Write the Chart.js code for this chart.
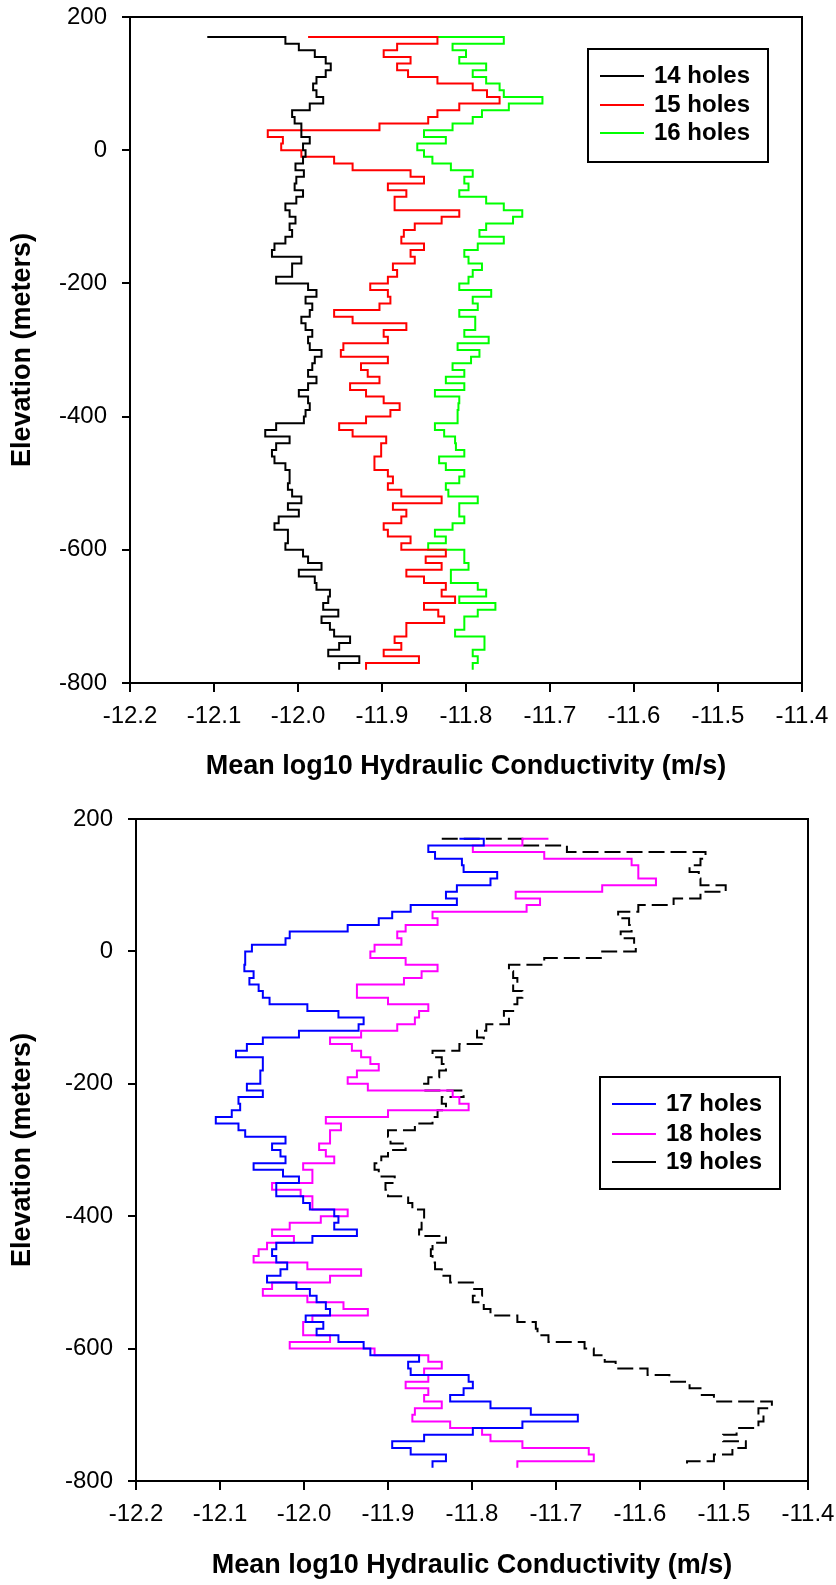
<!DOCTYPE html>
<html>
<head>
<meta charset="utf-8">
<script src="https://cdn.jsdelivr.net/npm/chart.js@4.4.0/dist/chart.umd.min.js"></script>
<style>
  html, body { margin: 0; padding: 0; background: #fff; }
  canvas { display: block; }
</style>
</head>
<body>
<canvas id="chartTop" width="836" height="790"></canvas>
<canvas id="chartBottom" width="836" height="795"></canvas>
<script>
// elevation of each reading (m), shared by all six profiles
const elevation = [170, 160, 150, 140, 130, 120, 110, 100, 90, 80, 70, 60, 50, 40, 30, 20, 10, 0,
  -10, -20, -30, -40, -50, -60, -70, -80, -90, -100, -110, -120, -130, -140, -150, -160, -170, -180,
  -190, -200, -210, -220, -230, -240, -250, -260, -270, -280, -290, -300, -310, -320, -330, -340,
  -350, -360, -370, -380, -390, -400, -410, -420, -430, -440, -450, -460, -470, -480, -490, -500,
  -510, -520, -530, -540, -550, -560, -570, -580, -590, -600, -610, -620, -630, -640, -650, -660,
  -670, -680, -690, -700, -710, -720, -730, -740, -750, -760, -770, -780];

// mean log10 K, top chart
const holes14 = [-12.108, -12.015, -11.999, -11.980, -11.967, -11.961, -11.967, -11.978, -11.982, -11.978,
  -11.970, -11.986, -12.007, -12.004, -11.996, -11.996, -11.986, -11.994, -11.991, -11.994, -12.003,
  -11.993, -12.002, -12.004, -11.994, -12.002, -12.015, -12.010, -12.003, -12.010, -12.007, -12.015,
  -12.028, -12.031, -11.996, -12.007, -12.007, -12.026, -11.988, -11.978, -11.991, -11.983, -11.986,
  -11.996, -11.991, -11.983, -11.988, -11.986, -11.972, -11.980, -11.983, -11.988, -11.978, -11.988,
  -11.999, -11.988, -11.986, -11.991, -11.993, -12.026, -12.039, -12.010, -12.026, -12.031, -12.028,
  -12.015, -12.010, -12.010, -12.012, -12.007, -11.996, -12.012, -11.999, -12.023, -12.028, -12.012,
  -12.012, -12.015, -11.994, -11.988, -11.972, -11.999, -11.980, -11.978, -11.962, -11.964, -11.970,
  -11.952, -11.972, -11.962, -11.957, -11.938, -11.951, -11.964, -11.927, -11.951];
const holes15 = [-11.988, -11.834, -11.882, -11.898, -11.866, -11.882, -11.869, -11.834, -11.792, -11.775,
  -11.760, -11.808, -11.834, -11.845, -11.903, -12.036, -12.018, -12.020, -11.996, -11.957, -11.935,
  -11.866, -11.850, -11.893, -11.871, -11.885, -11.885, -11.808, -11.829, -11.861, -11.874, -11.877,
  -11.850, -11.866, -11.861, -11.887, -11.882, -11.893, -11.914, -11.893, -11.890, -11.903, -11.957,
  -11.935, -11.871, -11.898, -11.893, -11.946, -11.949, -11.893, -11.925, -11.917, -11.903, -11.938,
  -11.919, -11.898, -11.879, -11.890, -11.919, -11.951, -11.935, -11.895, -11.901, -11.901, -11.909,
  -11.909, -11.893, -11.887, -11.893, -11.877, -11.829, -11.887, -11.871, -11.877, -11.898, -11.893,
  -11.866, -11.877, -11.824, -11.848, -11.829, -11.871, -11.850, -11.824, -11.829, -11.813, -11.850,
  -11.833, -11.826, -11.871, -11.871, -11.885, -11.877, -11.898, -11.856, -11.919];
const holes16 = [-11.882, -11.755, -11.816, -11.800, -11.808, -11.776, -11.792, -11.776, -11.760, -11.755,
  -11.709, -11.749, -11.781, -11.792, -11.816, -11.850, -11.824, -11.858, -11.850, -11.840, -11.818,
  -11.792, -11.802, -11.797, -11.808, -11.776, -11.755, -11.733, -11.744, -11.776, -11.784, -11.755,
  -11.786, -11.802, -11.797, -11.781, -11.792, -11.797, -11.808, -11.770, -11.792, -11.786, -11.808,
  -11.789, -11.789, -11.802, -11.773, -11.810, -11.784, -11.794, -11.816, -11.802, -11.824, -11.802,
  -11.837, -11.808, -11.809, -11.810, -11.810, -11.837, -11.826, -11.813, -11.812, -11.802, -11.832,
  -11.824, -11.802, -11.808, -11.824, -11.821, -11.786, -11.808, -11.808, -11.802, -11.816, -11.837,
  -11.824, -11.845, -11.802, -11.802, -11.797, -11.818, -11.818, -11.786, -11.776, -11.808, -11.765,
  -11.786, -11.802, -11.802, -11.813, -11.778, -11.778, -11.792, -11.786, -11.792];

// mean log10 K, bottom chart
const holes17 = [-11.815, -11.786, -11.852, -11.844, -11.812, -11.810, -11.770, -11.778, -11.818, -11.831,
  -11.818, -11.873, -11.895, -11.911, -11.948, -12.017, -12.022, -12.062, -12.070, -12.070, -12.071,
  -12.060, -12.065, -12.054, -12.049, -12.041, -11.996, -11.959, -11.929, -11.935, -12.006, -12.049,
  -12.068, -12.081, -12.049, -12.049, -12.052, -12.052, -12.068, -12.049, -12.078, -12.076, -12.086,
  -12.105, -12.078, -12.070, -12.022, -12.038, -12.028, -12.022, -12.060, -12.025, -12.006, -12.033,
  -12.033, -12.001, -11.993, -11.964, -11.959, -11.964, -11.937, -11.990, -12.033, -12.038, -12.033,
  -12.020, -12.028, -12.044, -12.009, -11.993, -11.985, -11.974, -11.969, -11.998, -11.977, -11.985,
  -11.959, -11.929, -11.921, -11.863, -11.876, -11.873, -11.804, -11.799, -11.810, -11.826, -11.778,
  -11.730, -11.674, -11.740, -11.799, -11.857, -11.895, -11.873, -11.831, -11.847];
const holes18 = [-11.709, -11.740, -11.799, -11.714, -11.610, -11.602, -11.602, -11.581, -11.645, -11.748,
  -11.719, -11.735, -11.847, -11.841, -11.879, -11.889, -11.884, -11.916, -11.921, -11.879, -11.841,
  -11.860, -11.881, -11.937, -11.937, -11.900, -11.852, -11.863, -11.868, -11.889, -11.932, -11.969,
  -11.943, -11.932, -11.921, -11.911, -11.937, -11.948, -11.924, -11.823, -11.815, -11.804, -11.900,
  -11.974, -11.956, -11.969, -11.969, -11.982, -11.974, -11.964, -12.001, -11.990, -11.990, -12.038,
  -12.004, -11.990, -11.990, -11.948, -11.980, -12.017, -12.038, -12.012, -12.044, -12.054, -12.060,
  -11.996, -11.932, -11.969, -12.038, -12.049, -11.996, -11.953, -11.924, -11.990, -12.001, -12.001,
  -11.969, -12.017, -11.916, -11.852, -11.836, -11.857, -11.852, -11.879, -11.852, -11.857, -11.836,
  -11.868, -11.871, -11.826, -11.788, -11.778, -11.740, -11.661, -11.655, -11.746];
const holes19 = [-11.836, -11.740, -11.687, -11.522, -11.528, -11.541, -11.530, -11.528, -11.498, -11.528,
  -11.560, -11.602, -11.626, -11.613, -11.610, -11.623, -11.607, -11.605, -11.645, -11.714, -11.756,
  -11.751, -11.746, -11.751, -11.740, -11.746, -11.751, -11.762, -11.756, -11.783, -11.794, -11.786,
  -11.815, -11.847, -11.836, -11.831, -11.839, -11.852, -11.857, -11.810, -11.836, -11.831, -11.841,
  -11.847, -11.868, -11.900, -11.897, -11.879, -11.900, -11.908, -11.916, -11.911, -11.892, -11.903,
  -11.900, -11.876, -11.871, -11.857, -11.857, -11.860, -11.863, -11.831, -11.847, -11.849, -11.847,
  -11.844, -11.836, -11.826, -11.799, -11.788, -11.799, -11.786, -11.778, -11.746, -11.724, -11.722,
  -11.709, -11.666, -11.655, -11.642, -11.629, -11.591, -11.565, -11.541, -11.528, -11.512, -11.443,
  -11.459, -11.453, -11.459, -11.485, -11.501, -11.474, -11.490, -11.512, -11.544];

const topLabels = ["14 holes", "15 holes", "16 holes"];
const bottomLabels = ["17 holes", "18 holes", "19 holes"];

// axes
const xMin = -12.2, xMax = -11.4, xStep = 0.1;
const yMin = -800, yMax = 200, yStep = 200;
const xTitle = "Mean log10 Hydraulic Conductivity (m/s)";
const yTitle = "Elevation (meters)";

Chart.defaults.font.family = '"Liberation Sans", Arial, sans-serif';
Chart.defaults.color = "#000";

function toPoints(values) {
  return elevation.map((e, i) => ({ x: values[i], y: e }));
}

// full box round the plot area
const framePlugin = {
  id: "frame",
  afterDraw(chart) {
    const { ctx, chartArea: a } = chart;
    ctx.save();
    ctx.strokeStyle = "#000";
    ctx.lineWidth = 2;
    ctx.strokeRect(a.left, a.top, a.right - a.left, a.bottom - a.top);
    ctx.restore();
  }
};

// boxed legend sitting inside the plot, like the original
const boxLegendPlugin = {
  id: "boxLegend",
  afterDraw(chart, args, opts) {
    const ctx = chart.ctx;
    ctx.save();
    ctx.fillStyle = "#fff";
    ctx.fillRect(opts.left, opts.top, opts.width, opts.height);
    ctx.strokeStyle = "#000";
    ctx.lineWidth = 2;
    ctx.strokeRect(opts.left, opts.top, opts.width, opts.height);
    ctx.font = "bold 24px " + Chart.defaults.font.family;
    ctx.textBaseline = "middle";
    chart.data.datasets.forEach((ds, i) => {
      const y = opts.top + opts.rows[i];
      ctx.strokeStyle = ds.borderColor;
      ctx.lineWidth = 2;
      ctx.beginPath();
      ctx.moveTo(opts.left + 12, y);
      ctx.lineTo(opts.left + 56, y);
      ctx.stroke();
      ctx.fillStyle = "#000";
      ctx.fillText(ds.label, opts.left + 66, y);
    });
    ctx.restore();
  }
};

function makeChart(id, series, labels, colors, cfg) {
  const datasets = series.map((s, i) => ({
    label: labels[i],
    data: toPoints(s),
    borderColor: colors[i],
    borderWidth: 2,
    borderDash: cfg.dashed && cfg.dashed[i] ? [16, 6] : [],
    pointRadius: 0,
    stepped: true,
    fill: false
  }));

  return new Chart(document.getElementById(id), {
    type: "line",
    data: { datasets: datasets },
    options: {
      responsive: false,
      animation: false,
      events: [],
      layout: { padding: { top: cfg.padTop, right: cfg.padRight, left: 0, bottom: 0 } },
      scales: {
        x: {
          type: "linear",
          min: xMin,
          max: xMax,
          ticks: {
            stepSize: xStep,
            autoSkip: false,
            maxRotation: 0,
            font: { size: 24 },
            padding: 10,
            callback: (v) => v.toFixed(1)
          },
          grid: { drawOnChartArea: false, tickLength: 9, color: "#000", lineWidth: 2 },
          border: { color: "#000", width: 2 },
          title: {
            display: true,
            text: xTitle,
            font: { size: 27, weight: "bold" },
            padding: { top: 0, bottom: cfg.xTitlePad }
          },
          afterFit: (scale) => {
            scale.height = cfg.xAxisHeight;
            scale.paddingLeft = 0;
            scale.paddingRight = 0;
          }
        },
        y: {
          type: "linear",
          min: yMin,
          max: yMax,
          ticks: { stepSize: yStep, font: { size: 24 }, padding: 15 },
          grid: { drawOnChartArea: false, tickLength: 8, color: "#000", lineWidth: 2 },
          border: { color: "#000", width: 2 },
          title: {
            display: true,
            text: yTitle,
            font: { size: 27, weight: "bold" },
            padding: { top: 6, bottom: 0 }
          },
          afterFit: (scale) => {
            scale.width = cfg.yAxisWidth;
            scale.paddingTop = 0;
            scale.paddingBottom = 0;
          }
        }
      },
      plugins: {
        legend: { display: false },
        tooltip: { enabled: false },
        boxLegend: cfg.legend
      }
    },
    plugins: [framePlugin, boxLegendPlugin]
  });
}

makeChart("chartTop", [holes14, holes15, holes16], topLabels,
  ["#000000", "#ff0000", "#00ff00"], {
    padTop: 17, padRight: 34, yAxisWidth: 130, xAxisHeight: 107, xTitlePad: 7,
    legend: { left: 588, top: 49, width: 180, height: 113, rows: [27, 56, 84] }
  });

makeChart("chartBottom", [holes17, holes18, holes19], bottomLabels,
  ["#0000ff", "#ff00ff", "#000000"], {
    padTop: 29, padRight: 28, yAxisWidth: 136, xAxisHeight: 104, xTitlePad: 3,
    dashed: [false, false, true],
    legend: { left: 600, top: 287, width: 180, height: 112, rows: [27, 57, 85] }
  });
</script>
</body>
</html>
